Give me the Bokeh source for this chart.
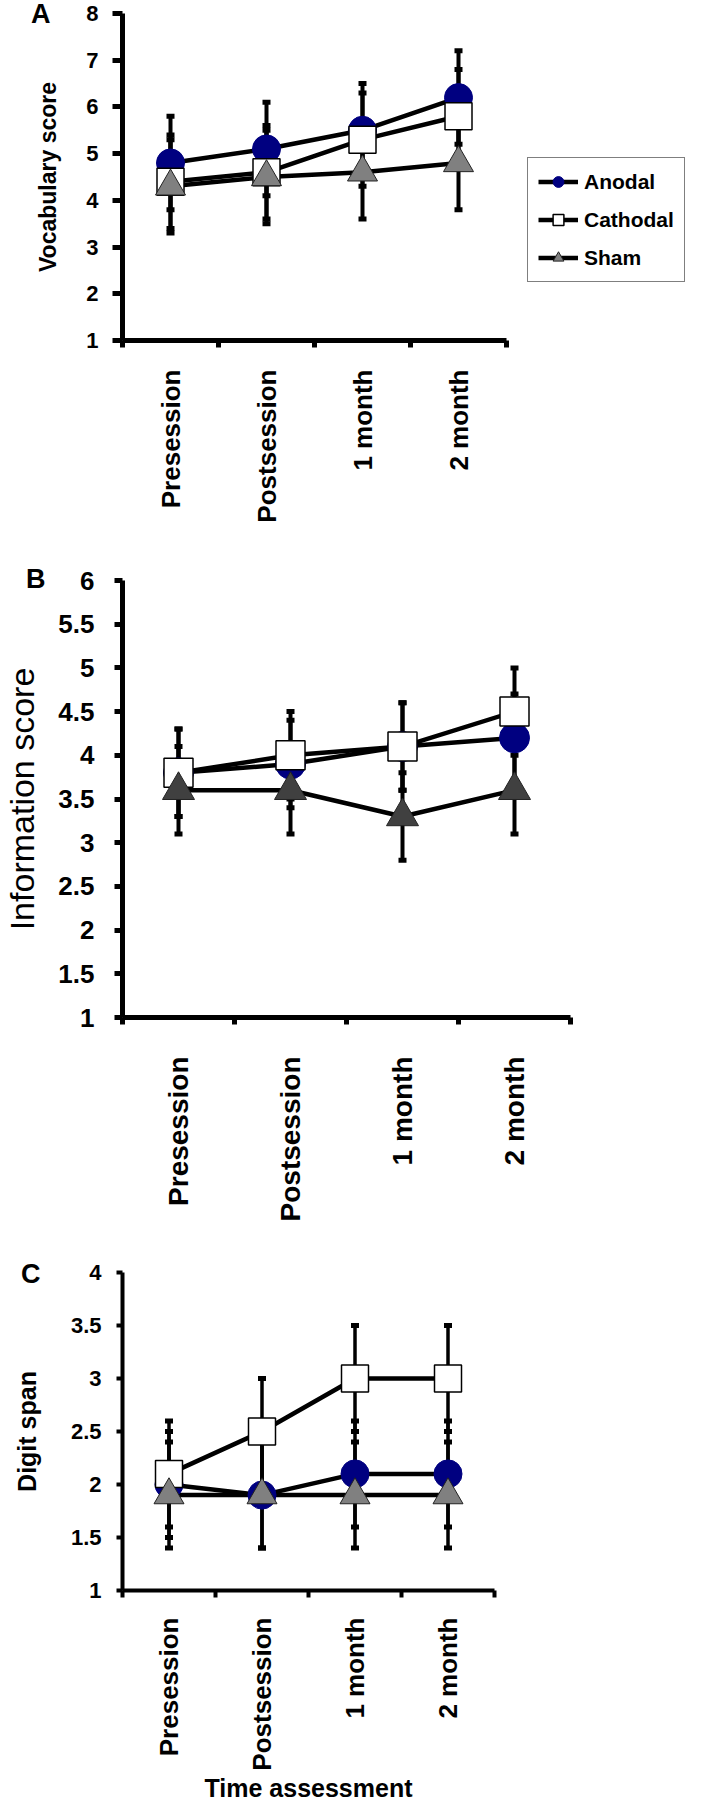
import math
from bokeh.plotting import figure
from bokeh.models import (Range1d, FixedTicker, NumeralTickFormatter, Whisker, TeeHead,
                          ColumnDataSource, Legend, LegendItem)
from bokeh.layouts import column
from bokeh.embed import file_html
from bokeh.resources import INLINE

FONT = "Liberation Sans"

categories = ["Presession", "Postsession", "1 month", "2 month"]
series_names = ["Anodal", "Cathodal", "Sham"]

# Panel A - Vocabulary score
vocab_anodal = [4.8, 5.1, 5.5, 6.2]
vocab_cathodal = [4.4, 4.6, 5.3, 5.8]
vocab_sham = [4.3, 4.5, 4.6, 4.8]
vocab_err_anodal = [1.0, 1.0, 1.0, 1.0]
vocab_err_cathodal = [1.0, 1.0, 1.0, 1.0]
vocab_err_sham = [1.0, 1.0, 1.0, 1.0]
vocab_ticks = [1, 2, 3, 4, 5, 6, 7, 8]

# Panel B - Information score
info_anodal = [3.8, 3.9, 4.1, 4.2]
info_cathodal = [3.8, 4.0, 4.1, 4.5]
info_sham = [3.6, 3.6, 3.3, 3.6]
info_err_anodal = [0.5, 0.5, 0.5, 0.5]
info_err_cathodal = [0.5, 0.5, 0.5, 0.5]
info_err_sham = [0.5, 0.5, 0.5, 0.5]
info_ticks = [1, 1.5, 2, 2.5, 3, 3.5, 4, 4.5, 5, 5.5, 6]

# Panel C - Digit span
digit_anodal = [2.0, 1.9, 2.1, 2.1]
digit_cathodal = [2.1, 2.5, 3.0, 3.0]
digit_sham = [1.9, 1.9, 1.9, 1.9]
digit_err_anodal = [0.5, 0.5, 0.5, 0.5]
digit_err_cathodal = [0.5, 0.5, 0.5, 0.5]
digit_err_sham = [0.5, 0.5, 0.5, 0.5]
digit_ticks = [1, 1.5, 2, 2.5, 3, 3.5, 4]

NAVY = "#000080"


def make_panel(cfg, values, errors, ticks):
    n = len(categories)
    xs = [i + 0.5 for i in range(n)]
    x_end = cfg["fw"] / cfg["cat_w"]
    p = figure(frame_width=cfg["fw"], frame_height=cfg["fh"],
               min_border_left=cfg["mbl"], min_border_right=692 - cfg["mbl"] - cfg["fw"],
               min_border_top=cfg["mbt"], min_border_bottom=cfg["mbb"],
               x_range=Range1d(0, x_end), y_range=Range1d(ticks[0], ticks[-1]),
               output_backend="svg", toolbar_location=None)
    p.xgrid.visible = False
    p.ygrid.visible = False
    p.outline_line_color = None
    p.background_fill_color = "white"
    p.border_fill_color = "white"

    # x axis: labels centred in each category, ticks at category boundaries
    xa = p.xaxis[0]
    xa.bounds = (0, n)
    xa.ticker = FixedTicker(ticks=xs, minor_ticks=list(range(n + 1)))
    xa.major_label_overrides = {x: c for x, c in zip(xs, categories)}
    xa.major_label_orientation = math.pi / 2
    xa.major_tick_line_color = None
    xa.major_tick_out = 0
    xa.major_tick_in = 0
    xa.minor_tick_out = 7
    xa.minor_tick_in = 0
    xa.minor_tick_line_width = cfg["axw"]
    xa.minor_tick_line_color = "black"
    xa.axis_line_width = cfg["axw"]
    xa.axis_line_color = "black"
    xa.major_label_text_font = FONT
    xa.major_label_text_font_style = "bold"
    xa.major_label_text_font_size = cfg["cat_fs"]
    xa.major_label_text_color = "black"
    xa.major_label_standoff = cfg["cat_so"]
    if cfg.get("xlabel"):
        xa.axis_label = cfg["xlabel"]
        xa.axis_label_text_font = FONT
        xa.axis_label_text_font_style = "bold"
        xa.axis_label_text_font_size = "25px"
        xa.axis_label_text_color = "black"
        xa.axis_label_standoff = 0

    ya = p.yaxis[0]
    ya.ticker = FixedTicker(ticks=ticks)
    ya.formatter = NumeralTickFormatter(format="0.[0]")
    ya.major_tick_out = cfg["ytick_out"]
    ya.major_tick_in = 0
    ya.major_tick_line_width = cfg["axw"]
    ya.major_tick_line_color = "black"
    ya.minor_tick_line_color = None
    ya.axis_line_width = cfg["axw"]
    ya.axis_line_color = "black"
    ya.major_label_text_font = FONT
    ya.major_label_text_font_style = "bold"
    ya.major_label_text_font_size = cfg["tick_fs"]
    ya.major_label_text_color = "black"
    ya.major_label_standoff = cfg["ytick_so"]
    ya.axis_label = cfg["ylabel"]
    ya.axis_label_text_font = FONT
    ya.axis_label_text_font_style = cfg["ylabel_style"]
    ya.axis_label_text_font_size = cfg["ylabel_fs"]
    ya.axis_label_text_color = "black"
    ya.axis_label_standoff = cfg["ylabel_so"]

    line_rs = []
    for vals in values:
        line_rs.append(p.line(xs, vals, line_color="black", line_width=4.5))

    for vals, errs in zip(values, errors):
        src = ColumnDataSource(dict(base=xs,
                                    upper=[v + e for v, e in zip(vals, errs)],
                                    lower=[v - e for v, e in zip(vals, errs)]))
        w = Whisker(base="base", upper="upper", lower="lower", source=src,
                    line_width=cfg["errw"], line_color="black",
                    upper_head=TeeHead(size=8, line_width=5, line_color="black"),
                    lower_head=TeeHead(size=8, line_width=5, line_color="black"))
        p.add_layout(w)

    ms = cfg["ms"]
    sc_a = p.scatter(xs, values[0], marker="circle", size=ms,
                     fill_color=NAVY, line_color=NAVY, line_width=1)
    sc_c = p.scatter(xs, values[1], marker="square", size=ms - 1,
                     fill_color="white", line_color="black", line_width=1.5)
    sc_s = p.scatter(xs, values[2], marker="triangle", size=ms + 2,
                     fill_color=cfg["sham_fill"], line_color="#222222", line_width=1)

    # panel letter (kept in a side panel so that it is not clipped to the frame)
    letter = Legend(items=[LegendItem(label=cfg["letter"], renderers=[line_rs[0]])],
                    location=cfg["letter_loc"], padding=0, margin=0, spacing=0,
                    glyph_width=0, glyph_height=30, label_height=30, label_width=20,
                    label_standoff=0, border_line_color=None, background_fill_alpha=0,
                    label_text_font=FONT, label_text_font_style="bold",
                    label_text_font_size="27px", label_text_color="black")
    p.add_layout(letter, "right")
    return p, line_rs, [sc_a, sc_c, sc_s]


# frame of A is widened to hold the legend; its x axis is bounded to the 4 categories
cfg_a = dict(fw=567, cat_w=96, fh=327, mbl=105, mbt=13, mbb=212, axw=5, errw=4, ms=28,
             cat_fs="26px", cat_so=22, tick_fs="22px", ytick_out=10, ytick_so=14,
             ylabel="Vocabulary score", ylabel_style="bold", ylabel_fs="23px", ylabel_so=22,
             sham_fill="#808080", letter="A", letter_loc=(-658, 310))
cfg_b = dict(fw=448, cat_w=112, fh=437, mbl=110, mbt=28, mbb=227, axw=5, errw=4, ms=30,
             cat_fs="28px", cat_so=32, tick_fs="26px", ytick_out=8, ytick_so=20,
             ylabel="Information score", ylabel_style="normal", ylabel_fs="34px", ylabel_so=14,
             sham_fill="#404040", letter="B", letter_loc=(-544, 422))
cfg_c = dict(fw=372, cat_w=93, fh=318, mbl=115, mbt=28, mbb=208, axw=4, errw=3.5, ms=28,
             cat_fs="26px", cat_so=20, tick_fs="22px", ytick_out=6, ytick_so=15,
             ylabel="Digit span", ylabel_style="bold", ylabel_fs="25px", ylabel_so=27,
             sham_fill="#808080", letter="C", letter_loc=(-473, 300),
             xlabel="Time assessment")

pa, la, sa = make_panel(cfg_a, [vocab_anodal, vocab_cathodal, vocab_sham],
                        [vocab_err_anodal, vocab_err_cathodal, vocab_err_sham], vocab_ticks)
pb, lb, sb = make_panel(cfg_b, [info_anodal, info_cathodal, info_sham],
                        [info_err_anodal, info_err_cathodal, info_err_sham], info_ticks)
pc, lc, scc = make_panel(cfg_c, [digit_anodal, digit_cathodal, digit_sham],
                         [digit_err_anodal, digit_err_cathodal, digit_err_sham], digit_ticks)

items = [LegendItem(label=name, renderers=[l, s]) for name, l, s in zip(series_names, la, sa)]
legend = Legend(items=items, location=(405, 58), padding=10, spacing=11,
                label_height=27, glyph_height=27, glyph_width=40, label_standoff=6,
                label_text_font=FONT, label_text_font_style="bold", label_text_font_size="21px",
                label_text_color="black", border_line_color="black", border_line_width=1.5,
                background_fill_color="white", background_fill_alpha=1.0)
pa.add_layout(legend)

layout = column(pa, pb, pc, spacing=0)
open("out.html", "w").write(file_html(layout, INLINE))
